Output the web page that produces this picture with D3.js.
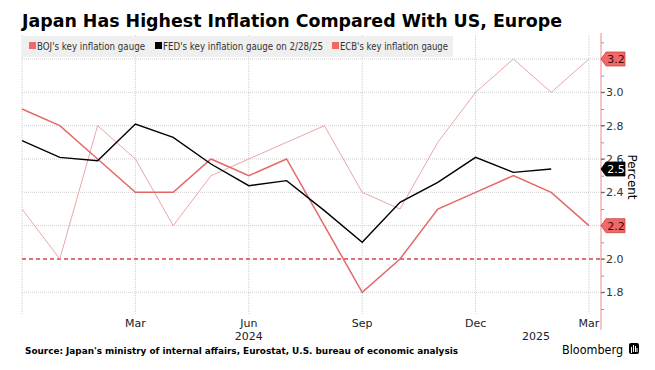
<!DOCTYPE html>
<html>
<head>
<meta charset="utf-8">
<script src="https://cdn.jsdelivr.net/npm/d3@7"></script>
<style>
  body { margin: 0; background: #fff; }
  svg text { font-family: "DejaVu Sans", Verdana, sans-serif; }
</style>
</head>
<body>
<svg id="chart" width="655" height="370"></svg>
<script>
// monthly readings, Dec 2023 .. Mar 2025
var months = ["2023-12", "2024-01", "2024-02", "2024-03", "2024-04", "2024-05", "2024-06", "2024-07",
              "2024-08", "2024-09", "2024-10", "2024-11", "2024-12", "2025-01", "2025-02", "2025-03"];
var bojValues = [2.3, 2.0, 2.8, 2.6, 2.2, 2.5, 2.6, 2.7, 2.8, 2.4, 2.3, 2.7, 3.0, 3.2, 3.0, 3.2];
var fedValues = [2.71, 2.61, 2.59, 2.81, 2.73, 2.57, 2.44, 2.47, 2.29, 2.10, 2.34, 2.46, 2.61, 2.52, 2.54, null];
var ecbValues = [2.9, 2.8, 2.6, 2.4, 2.4, 2.6, 2.5, 2.6, 2.2, 1.8, 2.0, 2.3, 2.4, 2.5, 2.4, 2.2];

var xTickMonths = ["2024-03", "2024-06", "2024-09", "2024-12", "2025-03"];
var xTickLabels = ["Mar", "Jun", "Sep", "Dec", "Mar"];
var yearLabels = [{at: "2024-06", text: "2024"}, {at: "2025-01", text: "2025", shift: 0.6}];
var yTicks = [1.8, 2.0, 2.2, 2.4, 2.6, 2.8, 3.0, 3.2];
var target = 2.0;

var legendItems = ["BOJ's key inflation gauge", "FED's key inflation gauge on 2/28/25", "ECB's key inflation gauge"];

var svg = d3.select("#chart");
var plotLeft = 22, plotRight = 601, plotTop = 35, plotBottom = 315;

var x = d3.scalePoint().domain(months).range([plotLeft, 589]);
var y = d3.scaleLinear().domain([1.664, 3.344]).range([plotBottom, plotTop]);

// title
svg.append("text")
  .attr("x", 22).attr("y", 27)
  .attr("font-size", 18).attr("font-weight", "bold").attr("fill", "#000")
  .attr("textLength", 540).attr("lengthAdjust", "spacingAndGlyphs")
  .text("Japan Has Highest Inflation Compared With US, Europe");

// grid
var grid = svg.append("g");
grid.selectAll(".hgrid")
  .data(yTicks.filter(function(d) { return d !== target; }))
  .enter().append("line")
  .attr("x1", plotLeft).attr("x2", plotRight)
  .attr("y1", function(d) { return y(d); }).attr("y2", function(d) { return y(d); })
  .attr("stroke", "#cfcfcf").attr("stroke-width", 1).attr("stroke-dasharray", "1,1");
grid.selectAll(".vgrid")
  .data([months[0]].concat(xTickMonths))
  .enter().append("line")
  .attr("x1", function(d) { return x(d); }).attr("x2", function(d) { return x(d); })
  .attr("y1", plotTop).attr("y2", plotBottom)
  .attr("stroke", "#cfcfcf").attr("stroke-width", 1).attr("stroke-dasharray", "1,1");

// legend
var lg = svg.append("g");
lg.append("rect").attr("x", 22).attr("y", 36).attr("width", 431).attr("height", 21).attr("fill", "#efefef");
var legendX = [29, 155, 332];
var legendW = [108, 160, 108];
var legendCol = ["#f06868", "#000", "#f06868"];
legendItems.forEach(function(t, i) {
  lg.append("rect").attr("x", legendX[i]).attr("y", 42).attr("width", 7).attr("height", 7).attr("fill", legendCol[i]);
  lg.append("text").attr("x", legendX[i] + 8).attr("y", 50)
    .attr("font-size", 10).attr("fill", "#333")
    .attr("textLength", legendW[i]).attr("lengthAdjust", "spacingAndGlyphs")
    .text(t);
});

// target line
svg.append("line")
  .attr("x1", plotLeft).attr("x2", plotRight)
  .attr("y1", y(target)).attr("y2", y(target))
  .attr("stroke", "#e0404f").attr("stroke-width", 1.5).attr("stroke-dasharray", "4,3");

function line(values) {
  return d3.line()
    .defined(function(d) { return d.v != null; })
    .x(function(d) { return x(d.m); })
    .y(function(d) { return y(d.v); })(months.map(function(m, i) { return {m: m, v: values[i]}; }));
}

svg.append("path").attr("d", line(bojValues)).attr("fill", "none").attr("stroke", "#eba5a5").attr("stroke-width", 1);
svg.append("path").attr("d", line(ecbValues)).attr("fill", "none").attr("stroke", "#e46868").attr("stroke-width", 1.5);
svg.append("path").attr("d", line(fedValues)).attr("fill", "none").attr("stroke", "#000").attr("stroke-width", 1.4);

// right axis
var axis = svg.append("g").attr("transform", "translate(" + plotRight + ",0)");
axis.call(d3.axisRight(y).tickValues(d3.range(17, 34).map(function(d) { return d / 10; })).tickSize(3).tickFormat(""));
axis.select(".domain").remove();
axis.selectAll(".tick line").attr("stroke", "#999");
axis.append("line").attr("x1", 0).attr("x2", 0).attr("y1", plotTop - 2).attr("y2", 330)
  .attr("stroke", "#ec8c8c").attr("stroke-width", 1);
axis.selectAll(".ylab")
  .data(yTicks)
  .enter().append("text")
  .attr("x", 5).attr("y", function(d) { return y(d) + 4; })
  .attr("font-size", 11).attr("fill", "#333")
  .text(function(d) { return d.toFixed(1); });
axis.selectAll(".major")
  .data(yTicks)
  .enter().append("line")
  .attr("x1", 0).attr("x2", 4)
  .attr("y1", function(d) { return y(d); }).attr("y2", function(d) { return y(d); })
  .attr("stroke", "#666");

svg.append("text")
  .attr("transform", "translate(628,177) rotate(90)")
  .attr("text-anchor", "middle").attr("font-size", 12).attr("fill", "#000")
  .text("Percent");

// last-value tags
var tags = [
  {v: bojValues[bojValues.length - 1], fill: "#f06868", stroke: "#c84848", text: "#3a0a0a"},
  {v: fedValues[fedValues.length - 2], fill: "#000", stroke: "#000", text: "#fff"},
  {v: ecbValues[ecbValues.length - 1], fill: "#f06868", stroke: "#c84848", text: "#3a0a0a"}
];
tags.forEach(function(t) {
  var cy = y(t.v);
  var g = svg.append("g").attr("transform", "translate(" + plotRight + "," + cy + ")");
  g.append("path").attr("d", "M0,0 L5,-7 L24,-7 L24,7 L5,7 Z")
    .attr("fill", t.fill).attr("stroke", t.stroke).attr("stroke-width", 0.8);
  g.append("text").attr("x", 15).attr("y", 4).attr("text-anchor", "middle")
    .attr("font-size", 11).attr("fill", t.text).text(t.v.toFixed(1));
});

// x labels
svg.selectAll(".xlab")
  .data(xTickMonths)
  .enter().append("text")
  .attr("x", function(d) { return x(d); }).attr("y", 327)
  .attr("text-anchor", "middle").attr("font-size", 11).attr("fill", "#222")
  .text(function(d, i) { return xTickLabels[i]; });
svg.selectAll(".year")
  .data(yearLabels)
  .enter().append("text")
  .attr("x", function(d) { return x(d.at) + (d.shift || 0) * x.step(); }).attr("y", 340)
  .attr("text-anchor", "middle").attr("font-size", 11).attr("fill", "#222")
  .text(function(d) { return d.text; });

// footer
svg.append("text")
  .attr("x", 25).attr("y", 354)
  .attr("font-size", 9.5).attr("font-weight", "bold").attr("fill", "#000")
  .attr("textLength", 433).attr("lengthAdjust", "spacingAndGlyphs")
  .text("Source: Japan's ministry of internal affairs, Eurostat, U.S. bureau of economic analysis");
svg.append("text")
  .attr("x", 562).attr("y", 354)
  .attr("font-size", 12.5).attr("fill", "#000")
  .attr("font-family", "Liberation Sans, Arial, sans-serif")
  .attr("textLength", 61).attr("lengthAdjust", "spacingAndGlyphs")
  .text("Bloomberg");
var logo = svg.append("g").attr("transform", "translate(629,343)");
logo.append("rect").attr("width", 10).attr("height", 11).attr("rx", 2).attr("fill", "#000");
[[2.5, 4, 6], [4.5, 2, 7], [6.5, 3, 6], [8, 5, 4]].forEach(function(b) {
  logo.append("line").attr("x1", b[0]).attr("x2", b[0]).attr("y1", b[1]).attr("y2", b[1] + b[2])
    .attr("stroke", "#fff").attr("stroke-width", 1);
});
</script>
</body>
</html>
